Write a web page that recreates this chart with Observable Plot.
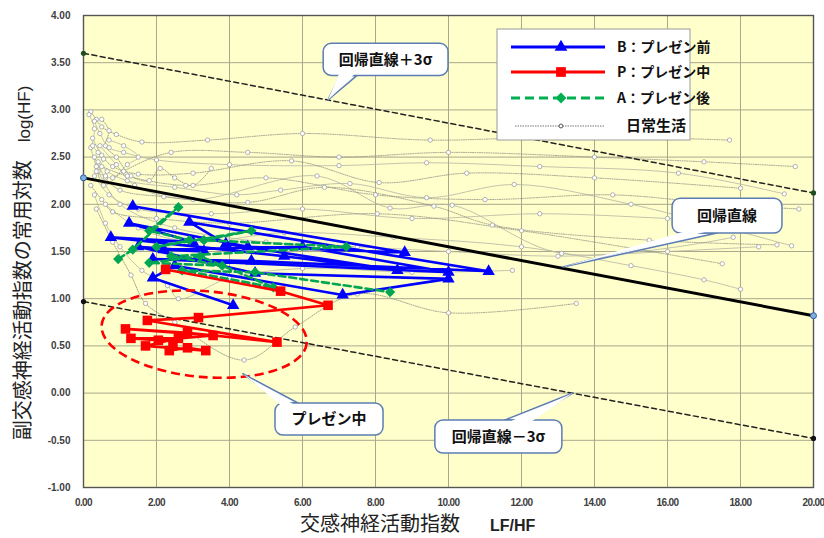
<!DOCTYPE html>
<html><head><meta charset="utf-8">
<script src="https://cdn.jsdelivr.net/npm/d3@7"></script>
<script src="https://cdn.jsdelivr.net/npm/@observablehq/plot@0.6"></script>
<style>
body{margin:0;background:#fff;}
g[aria-label="x-axis tick label"] text{letter-spacing:-0.6px;}
</style>
</head><body><div id="chart"></div>
<script>
// ---- tick labels ----
const xTicks = [0, 2, 4, 6, 8, 10, 12, 14, 16, 18, 20];
const yTicks = [-1, -0.5, 0, 0.5, 1, 1.5, 2, 2.5, 3, 3.5, 4];

// ---- regression lines ----
const regX = [0, 20];
const regMid = [2.28, 0.82];
const regUpper = [3.60, 2.12];
const regLower = [0.97, -0.48];

// ---- B: before presentation ----
const bX = [1.35, 8.8, 4.5, 1.25, 3.0, 0.75, 5.5, 8.6, 3.9, 2.9, 11.1, 4.6, 1.9, 10.0, 6.0, 2.2, 3.3, 1.5, 4.7, 10.0, 7.1, 2.5, 1.9, 4.1];
const bY = [1.98, 1.49, 1.55, 1.80, 1.60, 1.65, 1.45, 1.30, 1.58, 1.81, 1.29, 1.40, 1.42, 1.28, 1.55, 1.52, 1.50, 1.55, 1.27, 1.21, 1.04, 1.35, 1.22, 0.93];

// ---- P: during presentation ----
const pX = [2.25, 5.4, 6.7, 3.15, 1.75, 5.3, 2.85, 1.15, 3.55, 2.05, 1.3, 2.6, 1.7, 3.35, 2.85, 2.35, 2.45];
const pY = [1.31, 1.08, 0.93, 0.80, 0.77, 0.54, 0.64, 0.68, 0.61, 0.56, 0.58, 0.58, 0.50, 0.45, 0.48, 0.45, 0.53];

// ---- A: after presentation ----
const aX = [0.95, 1.35, 2.6, 1.8, 2.9, 2.0, 4.6, 3.3, 7.2, 2.4, 3.8, 1.8, 3.2, 5.2, 2.7, 4.7, 8.4];
const aY = [1.42, 1.52, 1.97, 1.72, 1.62, 1.55, 1.72, 1.62, 1.55, 1.45, 1.35, 1.38, 1.45, 1.12, 1.30, 1.28, 1.07];

// ---- daily life traces ----
const dailyTracks = [
  [[0.2,2.98],[0.35,2.9],[0.5,2.82],[0.9,2.74],[1.6,2.66],[3.4,2.68],[6.0,2.75],[9.5,2.68],[13.5,2.72],[17.7,2.68]],
  [[0.3,2.88],[0.45,2.75],[0.7,2.6],[1.1,2.55],[2.0,2.47],[4.0,2.42],[7.0,2.41],[9.4,2.44],[12.5,2.4],[16.3,2.33],[19.2,2.11]],
  [[0.25,2.7],[0.5,2.52],[0.8,2.4],[1.5,2.32],[3.0,2.33],[5.7,2.46],[8.1,2.23],[10.5,2.33],[14.0,2.28],[18.0,2.17]],
  [[0.4,2.45],[0.65,2.35],[1.2,2.25],[2.5,2.18],[4.2,2.1],[5.4,2.15],[7.3,2.22],[9.4,2.07],[11.8,2.21],[15.0,2.0],[19.4,1.56]],
  [[0.3,2.5],[0.6,2.28],[1.0,2.15],[2.2,2.08],[4.5,2.02],[6.6,2.18],[9.6,1.98],[11.2,1.78],[15.5,1.62],[19.0,1.57]],
  [[0.45,2.62],[0.9,2.42],[1.4,2.2],[3.0,2.05],[6.4,2.30],[8.4,1.96],[10.1,1.99],[13.1,1.48],[17.8,1.65]],
  [[0.2,2.2],[0.5,2.05],[0.8,1.92],[2.0,1.85],[4.0,1.8],[8.05,1.9],[12.0,1.72],[17.5,1.37]],
  [[0.3,2.1],[0.6,1.8],[1.0,1.55],[1.6,1.3],[2.3,1.14],[2.6,1.0],[4.0,1.22],[6.0,1.32],[9.0,1.28],[11.75,1.30]],
  [[0.35,1.95],[0.8,1.6],[1.3,1.25],[1.7,0.95],[2.5,0.75],[4.4,0.35],[5.8,0.7],[7.5,1.05],[10.0,0.85],[13.5,0.95]],
  [[0.4,2.35],[1.0,2.0],[2.5,1.75],[5.0,1.6],[7.5,1.55],[10.0,1.5],[13.0,1.45],[16.0,1.5],[18.5,1.55]],
  [[0.2,2.6],[0.35,2.4],[0.55,2.2],[1.1,2.35],[2.4,2.55],[4.5,2.55],[7.0,2.5],[10.0,2.55],[14.0,2.5],[17.0,2.45],[19.5,2.4]],
  [[0.15,2.95],[0.3,2.8],[0.25,2.62],[0.4,2.55],[0.55,2.48],[0.35,2.35],[0.6,2.3],[0.8,2.28],[1.2,2.42],[1.5,2.5],[1.1,2.62],[0.7,2.68]],
  [[0.5,2.9],[0.7,2.78],[0.6,2.62],[0.9,2.5],[1.3,2.3],[1.8,2.25],[2.1,2.38],[2.5,2.28],[3.0,2.2],[3.5,2.38]],
  [[0.3,2.3],[0.7,2.1],[1.5,1.95],[3.5,1.9],[6.0,1.95],[9.0,1.85],[12.5,1.9],[16.0,1.85],[18.8,1.8]],
  [[0.5,2.4],[1.2,2.3],[2.8,2.2],[5.0,2.28],[8.0,2.1],[11.0,2.05],[14.5,2.1],[17.5,2.0],[19.6,1.95]],
  [[0.6,2.0],[1.5,1.75],[3.0,1.6],[5.5,1.7],[8.5,1.65],[12.0,1.55],[15.0,1.35],[17.0,1.2],[18.0,1.1]]
];

// ---- labels ----
const yTitle = "副交感神経活動指数の常用対数";
const yTitleUnit = "log(HF)";
const xTitle = "交感神経活動指数";
const xTitleUnit = "LF/HF";
const legendLabels = ["B：プレゼン前", "P：プレゼン中", "A：プレゼン後", "日常生活"];

// ---- build tables ----
const B = bX.map((x, i) => ({x, y: bY[i]}));
const P = pX.map((x, i) => ({x, y: pY[i]}));
const A = aX.map((x, i) => ({x, y: aY[i]}));
const daily = dailyTracks.flatMap((t, k) => t.map(([x, y]) => ({x, y, track: k, dotted: k % 2 === 0})));
const reg = regX.map((x, i) => ({x, mid: regMid[i], up: regUpper[i], lo: regLower[i]}));

const blue = "#0000ff", red = "#ff0000", green = "#00a651";
const tickFont = "'Liberation Sans', Arial, sans-serif";
const jpFont = "'Noto Sans CJK JP', 'Noto Sans', sans-serif";

const plot = Plot.plot({
  width: 824, height: 538,
  marginLeft: 83, marginRight: 11, marginTop: 15, marginBottom: 51,
  x: {domain: [0, 20], label: null},
  y: {domain: [-1, 4], label: null},
  style: {fontFamily: tickFont, fontSize: "10px", fontWeight: "bold", color: "#404040", background: "#ffffff", overflow: "visible"},
  marks: [
    Plot.frame({fill: "#ffffcc", stroke: "none"}),
    Plot.gridX(xTicks, {stroke: "#a8a88c", strokeOpacity: 1, strokeWidth: 1}),
    Plot.gridY(yTicks, {stroke: "#a8a88c", strokeOpacity: 1, strokeWidth: 1}),
    Plot.line(daily.filter(d => !d.dotted), {x: "x", y: "y", z: "track", stroke: "#b4b4a4", strokeWidth: 0.8, curve: "catmull-rom"}),
    Plot.line(daily.filter(d => d.dotted), {x: "x", y: "y", z: "track", stroke: "#8c8c80", strokeWidth: 0.8, strokeDasharray: "1,1.3", curve: "catmull-rom"}),
    Plot.dot(daily, {x: "x", y: "y", r: 2.2, fill: "#ffffff", stroke: "#a0a0a0", strokeWidth: 0.8}),
    Plot.line(reg, {x: "x", y: "up", stroke: "#222", strokeWidth: 1.5, strokeDasharray: "5,3.5"}),
    Plot.line(reg, {x: "x", y: "lo", stroke: "#222", strokeWidth: 1.5, strokeDasharray: "5,3.5"}),
    Plot.line(reg, {x: "x", y: "mid", stroke: "#000", strokeWidth: 3}),
    Plot.line(B, {x: "x", y: "y", stroke: blue, strokeWidth: 2.6}),
    Plot.dot(B, {x: "x", y: "y", symbol: "triangle", r: 4.6, fill: blue, stroke: "none"}),
    Plot.line(A, {x: "x", y: "y", stroke: green, strokeWidth: 2.6, strokeDasharray: "7,4"}),
    Plot.dot(A, {x: "x", y: "y", symbol: "diamond2", r: 4.6, fill: green, stroke: "none"}),
    Plot.line(P, {x: "x", y: "y", stroke: red, strokeWidth: 2.6}),
    Plot.dot(P, {x: "x", y: "y", symbol: "square", r: 5.4, fill: red, stroke: "none"}),
    Plot.frame({stroke: "#555", strokeWidth: 1.4}),
    Plot.dot(reg, {x: "x", y: "up", r: 2.6, fill: "#1e4d1e"}),
    Plot.dot(reg, {x: "x", y: "mid", r: 3, fill: "#7fb0e0", stroke: "#2f5f9f", strokeWidth: 1}),
    Plot.dot(reg, {x: "x", y: "lo", r: 2.6, fill: "#111"}),
    Plot.axisX(xTicks, {tickSize: 0, tickPadding: 11, tickFormat: d => d.toFixed(2), fontWeight: "bold", fill: "#404040", fontSize: 10}),
    Plot.axisY(yTicks, {tickSize: 0, tickPadding: 13, tickFormat: d => d.toFixed(2), fontWeight: "bold", fill: "#404040", fontSize: 10})
  ]
});

document.getElementById("chart").appendChild(plot);

// ---- annotations overlay ----
const X = plot.scale("x").apply, Y = plot.scale("y").apply;
const svg = d3.select(plot);
const g = svg.append("g").attr("text-anchor", "start");

// ellipse around "during presentation"
const ec = [3.32, 0.62], erx = 2.82, ery = 0.455;
g.append("ellipse")
  .attr("cx", X(ec[0])).attr("cy", Y(ec[1]))
  .attr("rx", X(ec[0] + erx) - X(ec[0])).attr("ry", Y(ec[1] - ery) - Y(ec[1]))
  .attr("transform", `rotate(5 ${X(ec[0])} ${Y(ec[1])})`)
  .attr("fill", "none").attr("stroke", red).attr("stroke-width", 2.6).attr("stroke-dasharray", "9,5");

// callouts
function callout(box, tip, base, label, fs) {
  const x0 = X(box[0]), x1 = X(box[2]), y0 = Y(box[1]), y1 = Y(box[3]);
  const ty = Y(tip[1]);
  const up = ty < y0;
  const edge = up ? y0 : y1, inward = up ? 4 : -4;
  const c = g.append("g");
  const wedge = (e) => `M${X(base[0])},${e}L${X(tip[0])},${ty}L${X(base[1])},${e}Z`;
  c.append("path").attr("d", wedge(edge)).attr("fill", "#fff").attr("stroke", "#5c7db3").attr("stroke-width", 1.5).attr("stroke-linejoin", "round");
  c.append("rect").attr("x", x0).attr("y", y0).attr("width", x1 - x0).attr("height", y1 - y0)
    .attr("rx", 8).attr("fill", "#fff").attr("stroke", "#5c7db3").attr("stroke-width", 1.5);
  c.append("path").attr("d", wedge(edge + inward)).attr("fill", "#fff").attr("stroke", "none");
  c.append("text").attr("x", (x0 + x1) / 2).attr("y", (y0 + y1) / 2).attr("dy", "0.36em")
    .attr("text-anchor", "middle").attr("font-family", jpFont).attr("font-weight", "bold")
    .attr("font-size", fs).attr("fill", "#111").text(label);
}
callout([6.58, 3.70, 10.0, 3.36], [6.71, 3.10], [7.04, 7.51], "回帰直線＋3σ", 15);
callout([16.14, 2.06, 19.15, 1.69], [13.15, 1.33], [16.71, 17.37], "回帰直線", 15);
callout([5.26, -0.11, 8.22, -0.45], [4.38, 0.20], [5.48, 5.89], "プレゼン中", 15);
callout([9.64, -0.29, 13.12, -0.64], [13.42, -0.005], [11.56, 12.19], "回帰直線－3σ", 15);

// legend
const lg = g.append("g");
lg.append("rect").attr("x", 497).attr("y", 29).attr("width", 193).attr("height", 111)
  .attr("fill", "#fff").attr("stroke", "#9a9a9a").attr("stroke-width", 1);
const rows = [
  {y: 47, color: blue, dash: null, w: 3, sym: d3.symbolTriangle, size: 70},
  {y: 72, color: red, dash: null, w: 3, sym: d3.symbolSquare, size: 95},
  {y: 98, color: "#00b050", dash: "9,5", w: 3, sym: d3.symbolDiamond2, size: 75},
  {y: 126, color: "#777", dash: "1.5,1", w: 1, sym: d3.symbolCircle, size: 12}
];
rows.forEach((r, i) => {
  lg.append("line").attr("x1", i === 3 ? 515 : 511).attr("x2", 605).attr("y1", r.y).attr("y2", r.y)
    .attr("stroke", r.color).attr("stroke-width", r.w).attr("stroke-dasharray", r.dash);
  lg.append("path").attr("d", d3.symbol(r.sym, r.size)()).attr("transform", `translate(561,${r.y})`)
    .attr("fill", i === 3 ? "#fff" : r.color).attr("stroke", i === 3 ? "#555" : "none").attr("stroke-width", 1);
  lg.append("text").attr("x", i === 3 ? 626 : 617).attr("y", r.y).attr("dy", "0.36em")
    .attr("text-anchor", "start")
    .attr("font-family", jpFont).attr("font-weight", "bold").attr("font-size", i === 3 ? 15 : 14)
    .attr("fill", "#111").text(legendLabels[i]);
});

// axis titles
const yt = g.append("text").attr("transform", "translate(30,263) rotate(-90)")
  .attr("text-anchor", "middle").attr("font-family", jpFont).attr("font-size", 20)
  .attr("font-weight", "normal").attr("fill", "#222");
yt.append("tspan").text(yTitle);
yt.append("tspan").attr("dx", 18).attr("font-family", tickFont).attr("font-size", 17).text(yTitleUnit);

g.append("text").attr("x", 300).attr("y", 531).attr("text-anchor", "start").attr("font-family", jpFont).attr("font-size", 20)
  .attr("font-weight", "normal").attr("fill", "#222").text(xTitle);
g.append("text").attr("x", 490).attr("y", 531).attr("text-anchor", "start").attr("font-family", tickFont).attr("font-weight", "bold")
  .attr("font-size", 16).attr("fill", "#222").text(xTitleUnit);
</script>
</body></html>
